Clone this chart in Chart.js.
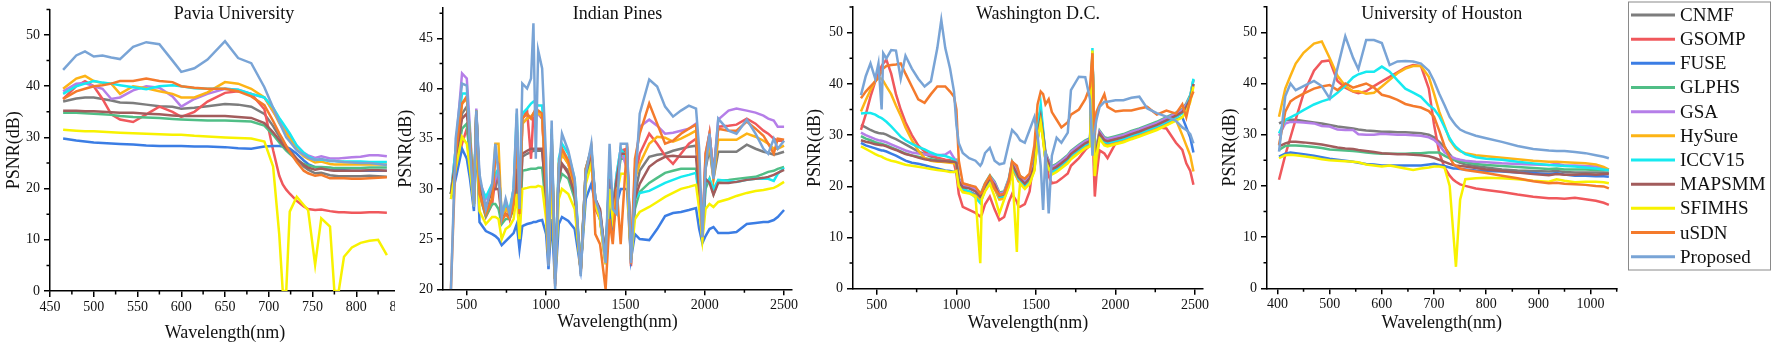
<!DOCTYPE html>
<html><head><meta charset="utf-8">
<script src="https://cdn.jsdelivr.net/npm/chart.js@4.4.1/dist/chart.umd.min.js"></script>
<style>
html,body{margin:0;padding:0;background:#fff;}
body{width:1772px;height:345px;position:relative;overflow:hidden;}
.panel{position:absolute;top:0;height:345px;background:#fff;}
.panel canvas{display:block;}
</style></head><body>
<div class="panel" style="left:0px;width:420px"><canvas id="c1" width="420" height="345"></canvas></div>
<div class="panel" style="left:395px;width:417px"><canvas id="c2" width="417" height="345"></canvas></div>
<div class="panel" style="left:800px;width:425px"><canvas id="c3" width="425" height="345"></canvas></div>
<div class="panel" style="left:1212px;width:560px"><canvas id="c4" width="560" height="345"></canvas></div>
<script>
// ---------- series names ----------
const SERIES_NAMES = ['CNMF','GSOMP','FUSE','GLPHS','GSA','HySure','ICCV15','MAPSMM','SFIMHS','uSDN','Proposed'];

// ---------- tick labels ----------
const paviaXTicks = [450,500,550,600,650,700,750,800,850];
const paviaYTicks = [0,10,20,30,40,50];
const pinesXTicks = [500,1000,1500,2000,2500];
const pinesYTicks = [20,25,30,35,40,45];
const dcXTicks = [500,1000,1500,2000,2500];
const dcYTicks = [0,10,20,30,40,50];
const houstonXTicks = [400,500,600,700,800,900,1000];
const houstonYTicks = [0,10,20,30,40,50];

// ---------- Pavia University ----------
const paviaWavelength = [465,480,490,500,510,520,530,545,560,575, 590,600,615,630,650,665,680,695,705,712, 716,720,724,732,740,745,753,760,770,775, 780,786,795,805,815,825,835];
const paviaCNMF = [37.0,37.6,37.8,37.8,37.5,37.2,36.8,36.7,36.4,36.1, 36.0,35.6,35.8,36.1,36.5,36.4,36.0,34.6,32.2,30.2, 29.2,28.3,27.5,25.8,24.3,23.7,23.0,23.1,22.6,22.5, 22.4,22.4,22.4,22.4,22.5,22.4,22.3];
const paviaGSOMP = [37.5,40.0,41.0,40.0,37.5,34.5,33.5,33.0,34.5,36.0, 35.0,34.0,35.0,37.0,38.7,39.0,38.5,35.5,27.5,22.5, 20.8,19.8,19.0,17.6,16.5,16.0,15.8,15.9,15.6,15.5, 15.4,15.4,15.3,15.3,15.4,15.4,15.3];
const paviaFUSE = [29.8,29.4,29.2,29.0,28.9,28.8,28.7,28.6,28.4,28.3, 28.3,28.3,28.2,28.2,28.1,27.9,27.8,28.2,28.3,28.3, 28.2,28.1,27.8,26.8,25.5,24.8,24.2,23.9,23.7,23.6, 23.6,23.6,23.5,23.5,23.5,23.5,23.5];
const paviaGLPHS = [34.8,34.8,34.7,34.6,34.5,34.4,34.2,34.0,33.9,33.8, 33.6,33.5,33.4,33.3,33.3,33.2,33.1,32.3,30.5,29.0, 28.2,27.4,26.8,25.6,24.8,24.5,24.2,24.2,24.1,24.0, 24.0,24.0,24.0,24.0,24.1,24.1,24.1];
const paviaGSA = [39.0,40.5,40.6,40.0,39.5,37.5,37.8,39.2,40.0,39.7, 38.0,36.0,37.5,38.5,39.5,39.3,38.5,37.8,35.0,33.2, 32.2,31.2,30.3,28.4,27.0,26.5,26.0,26.3,25.9,25.9, 25.9,26.0,26.1,26.2,26.5,26.5,26.3];
const paviaHySure = [39.5,41.5,42.0,41.0,40.6,40.5,38.5,40.0,39.6,39.0, 38.5,37.8,37.8,38.8,40.8,40.5,39.5,37.8,35.2,32.8, 31.8,30.8,29.8,27.7,26.3,25.8,25.1,25.3,24.8,24.7, 24.7,24.7,24.7,24.7,24.7,24.7,24.7];
const paviaICCV15 = [38.5,40.0,40.5,41.0,40.7,40.5,40.2,39.8,39.4,40.0, 40.2,40.0,39.6,39.5,39.5,39.3,38.5,37.8,35.8,33.8, 32.8,31.8,30.8,28.4,27.0,26.3,25.6,25.7,25.4,25.4, 25.3,25.3,25.3,25.3,25.2,25.2,25.2];
const paviaMAPSMM = [35.2,35.2,35.1,35.1,35.0,34.9,34.8,34.8,34.6,34.5, 34.3,34.2,34.2,34.2,34.2,34.0,33.8,32.8,31.0,29.5, 28.6,27.8,27.2,25.8,24.6,24.1,23.7,23.9,23.6,23.5, 23.5,23.5,23.5,23.5,23.6,23.6,23.5];
const paviaSFIMHS = [31.5,31.3,31.2,31.2,31.1,31.0,30.9,30.8,30.7,30.6, 30.5,30.5,30.3,30.2,30.0,29.9,29.8,29.2,24.3,11.0, 0,0,15.5,18.4,16.8,15.8,5.1,14.2,12.6,0, 0,6.7,8.5,9.4,9.8,10.0,7.0];
const paviaUSDN = [37.5,39.0,39.5,40.0,40.2,40.5,41.0,41.0,41.5,41.0, 40.8,40.0,39.7,39.5,39.5,39.0,38.0,36.3,33.2,30.8, 29.6,28.3,27.2,25.2,23.5,23.0,22.5,22.7,22.0,22.0, 22.0,22.0,21.9,21.9,22.0,22.1,22.2];
const paviaProposed = [43.2,46.0,46.8,45.8,46.0,45.6,45.3,47.7,48.6,48.2, 45.0,42.8,43.5,45.2,48.8,45.5,44.5,39.8,35.8,33.0, 31.5,30.0,29.2,27.5,26.6,26.0,25.6,25.8,25.4,25.4, 25.3,25.2,25.1,25.0,25.0,24.8,24.6];

// ---------- Indian Pines ----------
const pinesWavelength = [400,430,470,500,520,545,560,580,620,660, 680,700,720,745,770,795,815,832,850,880, 905,920,935,950,975,1000,1015,1035,1057,1080, 1100,1140,1180,1218,1250,1285,1310,1340,1375,1400, 1420,1445,1470,1510,1535,1560,1590,1650,1700,1750, 1800,1850,1900,1945,1965,1985,2005,2030,2055,2085, 2150,2200,2265,2320,2370,2400,2435,2460,2500];
const pinesCNMF = [29.5,33,37.5,38.2,35,28.8,37.5,30,28,30, 30,31.5,27,27.5,27.4,28,32,26.5,33.2,33.5, 33.7,33.8,33.8,33.8,33.8,29,23,34,21,31, 32.5,31.8,29.5,21.8,31.5,33.5,29,27.8,23,31, 28,31,33.5,34,23,29.5,31.8,33.2,33.4,33.5, 33.8,34,34.2,34.3,30,25.2,32,34,31,33.7, 33.7,33.7,34.4,34,33.7,33.6,33.4,33.5,33.7];
const pinesGSOMP = [29.5,32,34.5,36,34,28.5,37,29.5,27.2,28.5, 31,31,27.5,28.5,27,28.5,35,27,37,37.8, 33,37.5,37.8,37.5,37,30,23,35,21,32, 33.5,32.5,30,21.8,31.8,33.5,28,27,23,32, 27.5,31,33.8,34,22.3,31,33.5,35.5,34.5,33.3, 32.5,33.5,34.5,35,30.5,25.2,33,35.5,31.5,36.2, 36.3,36.4,37,36.5,35.8,35.5,35,34.8,34.8];
const pinesFUSE = [29,31,34,33,31,27.8,35.5,26.7,25.8,25.5, 25.3,25,24.4,24.8,25.2,25.6,26.5,24,26.3,26.5, 26.6,26.7,26.7,26.8,26.9,25.5,22,27,20.5,26.5, 27.2,26.8,26,22,29,30.5,28.5,27,22.5,28, 26,28.5,30,30,23,25.5,25,24.9,26,27.3, 27.6,27.7,27.9,28.1,26,24.6,25.3,26,26.2,25.6, 25.6,25.7,26.5,26.6,26.7,26.7,26.9,27.2,27.9];
const pinesGLPHS = [29.5,32.5,36,36.5,33,28.5,37,29.5,27.3,28.5, 28.5,28,26.5,27,27,28,31,26,31.8,31.9, 32,32,32,32.1,32.1,28,23,33,21,30.5, 31.5,31,29,21.8,31,33,28.5,27.5,23,31, 27.5,30.5,33,33,23,28,29.7,30.6,31.1,31.6, 31.8,32,32,32,29,25.2,30,31,29.5,30.8, 30.9,31,31.1,31.2,31.5,31.7,31.8,32,32.2];
const pinesGSA = [29.5,34,41.5,41,36,29,38,30.8,29,30, 31,32,27.5,28,27.5,30,36.5,27.5,36.5,37, 37.2,37.3,37.4,37.4,37.2,30,23,35.5,21,32, 34,32.8,30.5,22,32,34,28.8,27.5,23,32, 28,31.5,34,32,23,32,36.2,36.9,36.3,35.5, 35.6,35.8,36,36.5,31.5,25.2,33.5,35.5,31.5,36.9, 37.8,38,37.8,37.6,37.3,37,36.8,36.2,36.2];
const pinesHySure = [29.5,33.5,38.5,39,35.5,28.8,37.8,30,27.8,29, 34.5,34.5,27,28,27.5,29,36,27,36.5,37, 37.2,37.5,37.6,37.5,37.2,30,23,35,21,32, 33.5,32.5,30,21.8,32,33.8,28.5,27,22.5,32, 27.5,31,33.5,33.5,23,31,32.5,34.5,35.2,35.1, 34.7,35,35.4,35.8,31,25.2,32.5,34.5,31,34.9, 34.9,34.9,35.5,35.2,34.8,34.5,34,34,34.3];
const pinesICCV15 = [29.5,34,39.5,39.5,35.5,29,37.8,30.5,29.2,30.5, 31.5,32,27.5,28.5,28,30,37.5,28,37.5,38, 38.5,38.7,38.5,38.3,38.3,31,23.5,36,21,33, 34.5,33.5,31,22,32,34,29,27.5,23,32.5, 28,31.5,34,33,23,29,29.6,29.8,30.2,30.6, 30.9,31.2,31.4,31.6,29,25.2,30.5,31,30,30.9, 30.8,30.7,30.9,31,31,31,30.8,31.5,32.1];
const pinesMAPSMM = [29.5,33,37,37.5,34.5,28.8,37.5,30.5,28,30, 30,30,27,27.5,27.2,28,32,26.5,33.5,33.8, 34,34,34,34,34,29,23,34,21,31, 32.5,31.5,29.5,21.8,31.5,33.5,29,28,23,31, 28,31,33.5,33.5,23,29,30.5,32.2,32.8,33.2, 33.3,33.2,33.2,33.2,29.5,25.2,31,30.6,29.4,30.6, 30.6,30.7,30.9,31,31.1,31.2,31.4,31.6,31.9];
const pinesSFIMHS = [29,32,35.2,34.5,32,28.3,36.5,27.8,26.5,27.2, 27.2,27,25,26,26.3,27,29.5,25,30,30.1, 30.2,30.2,30.2,30.3,30.2,27,23,31,21,29, 30,29.5,28,22,30.5,32.5,28.5,27,22.5,30, 27,29.5,31.5,31.5,23,27,27.7,28.2,28.7,29.2, 29.6,30,30.2,30.4,28,24.9,28,28.5,28.2,28.7, 29,29.3,29.6,29.8,29.9,30,30.1,30.3,30.7];
const pinesUSDN = [20,33.5,38.5,39.2,35,28.5,37.8,29.5,27.5,29, 33,32.5,26.8,27.5,27,28.5,36,27.5,37,37.5, 37,37.5,38,37.8,37.5,30,22.5,35.5,20.3,32.5, 34,32.8,30.5,21.5,32,34,25.5,24.5,20,27, 24.5,30,24.5,34.5,22.5,33,35.5,38.5,36.5,34.5, 34.8,35.5,36,36.4,31.5,25.2,33.5,35.5,31.5,36, 35.8,35.8,36.7,36,35.3,34.5,33.5,35,34.9];
const pinesProposed = [20,35,40.5,40.3,34,28.2,37.8,31.5,28,30.5, 34.5,31.5,27.2,29,27.5,30,38,28,40.5,40, 41,46.5,33,43.8,42,33,22.3,36.8,20,32, 35.5,33.8,31,21.3,31.5,34.5,29,27.5,22.6,34.5, 28,27.5,34.5,34.5,22.6,30,37.5,40.9,40.2,38.2, 37.2,37.8,38.3,38,34,25.2,32,35.5,31,37, 35.8,35.5,36.9,35.5,34,33.5,35,34,34.8];

// ---------- Washington D.C. ----------
const dcWavelength = [400,430,460,490,510,530,540,560,590,620, 650,680,720,760,800,840,880,905,930,960, 985,1000,1015,1040,1080,1120,1150,1160,1180,1210, 1240,1270,1300,1330,1350,1380,1390,1400,1430,1460, 1490,1510,1530,1545,1560,1580,1600,1630,1660,1700, 1720,1770,1810,1840,1855,1862,1870,1880,1900,1930, 1950,2000,2050,2100,2150,2200,2260,2320,2380,2420, 2445,2470,2490];
const dcCNMF = [32,31.5,31,30.6,30.4,30.3,30.3,30.1,29.6,29.2, 28.7,28.2,27.5,26.8,26.3,25.8,25.5,25.3,25.1,25, 24.9,24.7,21.2,20,19.8,19.2,18.2,18.7,20.2,21.7, 20.5,18.4,18.6,21.2,24.5,22.7,22,21.7,20.7,21.7, 24.2,30.2,33.7,30.2,26.2,24.7,23.5,24,24.7,25.7, 26.5,27.7,28.6,29,46,35.2,24.2,27.2,30.5,29.2, 29,29.4,29.8,30.4,30.9,31.5,32.2,33.1,34,34.7, 35.7,37.2,40];
const dcGSOMP = [31,34,37.5,40.5,42,43.5,44,44.7,42,38, 35,32.5,30,28,26.8,26,25.6,25.4,25.2,25.1, 24.5,22.5,18.5,16,15.4,14.8,14.1,14.5,16.5,18, 15.5,13.4,14,17,18.5,17,16,16,16.5,19, 26,33,34.9,30,25,22,20.6,20.8,21.5,22.5, 24,25.5,27.1,28,42,25,18,22,27,26.4, 25.5,28.4,28.8,29.5,30.3,30.8,31.6,31.3,28.5,27.1, 24.5,23,20.3];
const dcFUSE = [28.5,28,27.7,27.4,27.2,27,27,26.8,26.4,26, 25.5,25,24.6,24.4,24.1,23.8,23.5,23.3,23.1,23, 22.8,23,20.4,19.2,19,18.4,17.4,17.9,19.4,20.9, 19.7,17.6,17.8,20.4,23.7,21.9,21.2,20.9,19.9,20.9, 23.4,29.4,32.9,29.4,25.4,23.9,22.7,23.2,23.9,24.9, 25.7,26.9,27.8,28.2,45.5,34.4,23.4,26.4,29.7,28.4, 28.2,28.6,29,29.6,30.1,30.7,31.4,32.3,33,33.5, 31.5,29.5,26.6];
const dcGLPHS = [29.8,29.3,29,28.6,28.4,28.3,28.2,28,27.6,27.2, 26.8,26.4,26,25.8,25.5,25.3,25.1,25,24.9,24.8, 24.7,25.1,21.6,20.4,20.2,19.6,18.6,19.1,20.6,22.1, 20.9,18.8,19,21.6,24.9,23.1,22.4,22.1,21.1,22.1, 24.6,30.6,34.1,30.6,26.6,25.1,23.9,24.4,25.1,26.1, 26.9,28.1,29,29.4,46.3,35.6,24.6,27.6,30.9,29.6, 29.4,29.8,30.2,30.8,31.3,31.9,32.6,33.5,34.4,35.1, 36.2,37.8,40.8];
const dcGSA = [30.5,30,29.6,29.2,29,28.9,28.8,28.6,28.2,27.8, 27.4,27,26.6,26.4,26.2,26.2,26.1,26.1,26.2,26.8, 25.5,24.9,21.4,20.2,20,19.4,18.4,18.9,20.4,21.9, 20.7,18.6,18.8,21.4,24.7,22.9,22.2,21.9,20.9,21.9, 24.4,30.4,33.9,30.4,26.4,24.9,23.7,24.2,24.9,25.9, 26.7,27.9,28.8,29.2,46.2,35.4,24.4,27.4,30.7,29.4, 29.2,29.6,30,30.6,31.1,31.7,32.4,33.3,34.2,34.9, 36,37.5,40.8];
const dcHySure = [34.6,36.8,38.8,40.6,41.2,41,40.6,39.5,38,35.8, 33.8,31.5,29,27,25.5,25,24.8,24.8,24.7,24.6, 24.5,24,20.2,19,18.8,18.2,17.2,17.7,19.2,20.7, 19.5,17.4,17.6,20.2,23.5,21.7,21,20.7,19.7,20.7, 23.2,29.2,32.7,29.2,25.2,23.7,22.5,23,23.7,24.7, 25.5,26.7,27.6,28,45.5,33,22,25,29.5,28.2, 28,28.4,28.8,29.4,29.9,30.5,31.2,32,33,30, 28,26,22.9];
const dcICCV15 = [34.2,34.3,34.3,34,33.6,33.3,33.1,32.6,31.7,30.7, 29.7,29,28.3,27.7,27.2,26.6,26.1,26,25.9,25.6, 25.2,24.5,20.7,19.5,19,17.8,16.7,17.5,19.7,21.2, 20,17.9,18.1,20.7,24,22.2,21.5,21.2,20.2,21.2, 23.7,31,36,31,25,23.5,22.5,23.5,24.2,25.2, 26,27.2,28.1,28.5,47,34.7,23.7,26.7,30,28.7, 28.5,28.9,29.3,29.9,30.4,31,31.7,32.6,33.5,34.2, 35.5,37.5,41];
const dcMAPSMM = [29,28.7,28.5,28.2,28.1,28,28,27.8,27.4,27.1, 26.7,26.3,26,25.6,25.3,25.1,25,24.9,24.9,24.8, 24.8,24.6,21,19.8,19.6,19,18,18.5,20,21.5, 20.3,18.2,18.4,21,24.3,22.5,21.8,21.5,20.5,21.5, 24,30,33.5,30,26,24.5,23.3,23.8,24.5,25.5, 26.3,27.5,28.4,28.8,45.8,35,24,27,30.3,29, 28.8,29.2,29.6,30.2,30.7,31.3,32,32.9,33.8,34.5, 35.5,37,40];
const dcSFIMHS = [27.8,27.3,26.8,26.3,26,25.8,25.6,25.3,25,24.8, 24.5,24.2,24,23.8,23.6,23.4,23.2,23.1,23,22.8, 22.8,23,20,18.8,18.6,18,5,17.5,19,20.5, 18,14.7,17.4,20,23.3,7.2,17,20.5,19.5,20.5, 23,29,32.5,29,25,23.5,22.3,22.8,23.5,24.5, 25.3,26.5,27.4,27.8,46.5,34,22,26,29.3,28, 27.8,28.2,28.6,29.2,29.7,30.3,31,31.9,32.8,33.5, 34.5,36.5,39.5];
const dcUSDN = [37.2,38.5,39.5,40.5,41.2,42.5,43,43.5,43.7,43.8, 44,42,39.5,37,36.3,38,39.5,39.5,39.5,38.5, 37.5,35,25,20.6,20.2,19.9,18.6,18.8,20.5,22, 19.5,18.3,18.5,21,24.8,24,23,22,21.5,22.5, 28,36,38.5,38,36,37,34.5,33,31.5,32.5, 34,35,37,39.5,46,35,30,34.5,36,38, 35.5,34.6,34.8,34.8,35.2,35.5,34,34.8,34.2,36, 33.5,37,38.5];
const dcProposed = [37.8,41.5,44,41,44,35,46,45,46.6,46.5, 41,45.5,43,41,39.5,40.5,47,52.5,47,43, 38.5,32,28.4,26.5,25.5,25,24,24.5,26.5,27.5, 25,24.3,24.5,28.5,31,30,29.5,29,28.5,31, 33.5,30,24,15.4,27,14.7,26,29.5,28.5,30.5, 38.8,41.4,41.3,37,26,29,31,33,35.5,36.5, 36.5,36.8,36.8,37.3,37.5,35.2,34.3,33.6,32.8,31.5, 31,30.2,28.4];

// ---------- University of Houston ----------
const houstonWavelength = [403,415,425,435,450,470,485,500,515,530, 545,555,570,585,600,615,630,645,660,675, 690,700,710,720,730,737,742,750,760,780, 800,830,860,890,920,935,950,970,990,1010, 1025,1035];
const houstonCNMF = [32.2,32.8,32.9,32.9,32.7,32.4,32.2,31.9,31.6,31.4, 31.2,31,30.8,30.7,30.6,30.6,30.5,30.5,30.4,30.3, 30,29.5,28.6,27.6,26.2,25.3,24.9,24.5,24.2,23.9, 23.6,23.2,23,22.9,22.8,22.9,22.7,22.6,22.6,22.6, 22.6,22.5];
const houstonGSOMP = [21.2,26,29.5,33,38,42.5,44.3,44.5,40.5,39.2, 38.4,38.1,38.5,39.5,40.4,41.3,42.2,43.1,43.6,43.4, 39,32,26.5,23.6,22,21.2,20.8,20.3,20,19.5, 19.2,18.8,18.3,17.9,17.6,17.6,17.5,17.7,17.4,17.1, 16.7,16.3];
const houstonFUSE = [25.7,26.3,26.5,26.4,26.2,25.9,25.6,25.3,25.1,24.9, 24.7,24.5,24.3,24.2,24,24,24,24,24,24, 24.2,24.3,24.1,23.9,23.6,23.4,23.4,23.3,23.2,23, 22.9,22.8,22.6,22.5,22.3,22.5,22.2,22,22,21.9, 21.9,21.8];
const houstonGLPHS = [27,27.8,27.9,27.9,27.8,27.6,27.4,27.1,27,26.9, 26.8,26.7,26.5,26.4,26.3,26.3,26.3,26.3,26.4,26.4, 26.5,26.5,26.5,25.9,25.4,25.1,25,24.8,24.6,24.3, 24.1,23.9,23.7,23.5,23.3,23.4,23.2,23.2,23.2,23.1, 23.1,23];
const houstonGSA = [29.8,32.2,32.5,32.5,32.4,32.2,31.7,31.6,31,30.9, 30.9,30.1,30,30,30.2,30.1,30,30,29.9,29.8, 29.5,29,28,26.6,25.8,25.5,25.3,25.1,24.9,24.7, 24.6,24.4,24.3,24.2,24.1,24.3,24,24,23.9,23.8, 23.5,23.1];
const houstonHySure = [33.5,39,41.5,43.9,46,47.8,48.2,45,41.5,39.5, 38.5,38.5,38,38.2,39.4,40.7,42,42.9,43.4,43.4, 41.3,38,34.5,31.8,29,28,27.3,26.8,26.4,26, 25.8,25.5,25.2,24.9,24.7,24.7,24.6,24.5,24.4,24.2, 23.7,23.2];
const houstonICCV15 = [30.3,32.9,33.4,33.9,34.8,35.9,36.5,37,38.2,39.6, 41.2,41.8,42.3,42.3,43.3,42.3,40.6,39,38.2,37.4, 35.8,35,33.6,31.5,29.3,28.2,27.6,26.9,26.2,25.6, 25.3,25.1,24.7,24.4,24.1,24,23.9,23.8,23.6,23.4, 23.2,23.1];
const houstonMAPSMM = [27.7,28.3,28.6,28.6,28.5,28.3,28.1,27.8,27.5,27.3, 27.2,27,26.8,26.6,26.4,26.3,26.2,26.2,26.1,26, 25.8,25.5,25.1,24.7,24.3,24.1,24,23.9,23.8,23.5, 23.2,22.9,22.6,22.3,22.1,22.3,22.2,22.2,22.3,22.2, 22.3,22.3];
const houstonSFIMHS = [25.4,26,26.1,26,25.8,25.5,25.2,25,24.9,24.8, 24.7,24.6,24.2,24,23.8,24,23.7,23.4,23.1,23.4, 23.6,23.8,23.8,23.6,20,10.7,4.2,17.3,21.3,21.5, 21.6,21.5,21.3,21,20.8,21.3,21,20.7,20.8,20.8, 20.7,20.5];
const houstonUSDN = [28,34.5,36.5,37.2,38,39,39.4,39.7,38.7,40, 39.2,39.5,40,39.2,37.8,37.4,36.8,36,35.6,35.3, 34.6,33.5,30.8,27.8,25.6,24.3,23.9,23.4,23.1,22.8, 22.5,22,21.5,20.9,20.5,20.6,20.4,20.3,20.2,20, 19.9,19.5];
const houstonProposed = [26.7,37.5,40,38.7,39.5,40.5,39.5,37.1,43,49.2, 45,42.8,48.5,48.5,47.9,43.6,44.3,44.4,44.3,43.9, 42.5,40.5,38,35.8,33.5,32.5,31.8,31,30.5,29.8, 29.3,28.6,27.8,27.2,26.9,26.8,26.8,26.6,26.4,26, 25.7,25.4];

// ---------- styling ----------
const COLORS = ['#7d7d7d','#f0585c','#3b7de4','#50be86','#b57ee8','#fdb416','#16eaf0','#a25c5c','#f8f200','#f47a2c','#79a4d6'];
const FONT = "'Liberation Serif','Times New Roman',serif";
const INK = '#111';

const minorTicks = {
  id: 'minorTicks',
  afterDraw(chart) {
    const ctx = chart.ctx, ca = chart.chartArea;
    ctx.save(); ctx.strokeStyle = '#000'; ctx.lineWidth = 1.5;
    ctx.beginPath();
    for (const id of ['x', 'y']) {
      const s = chart.scales[id];
      const vals = s.ticks.map(t => t.value);
      if (vals.length < 2) continue;
      const step = vals[1] - vals[0];
      const minors = [];
      for (let v = vals[0] - step / 2; v >= s.min - 1e-9; v -= step) minors.push(v);
      for (let v = vals[0] + step / 2; v <= s.max + 1e-9; v += step) minors.push(v);
      for (const v of minors) {
        const p = s.getPixelForValue(v);
        if (id === 'x') { ctx.moveTo(p, ca.bottom); ctx.lineTo(p, ca.bottom + 3.5); }
        else { ctx.moveTo(ca.left, p); ctx.lineTo(ca.left - 3.5, p); }
      }
    }
    ctx.stroke(); ctx.restore();
  }
};

const panelTitle = {
  id: 'panelTitle',
  afterDraw(chart, args, opts) {
    const ctx = chart.ctx, ca = chart.chartArea;
    ctx.save();
    ctx.font = '18px ' + FONT; ctx.fillStyle = INK;
    ctx.textAlign = 'center'; ctx.textBaseline = 'alphabetic';
    ctx.fillText(opts.text, (ca.left + ca.right) / 2 + opts.dx, opts.y);
    ctx.restore();
  }
};

const boxLegend = {
  id: 'boxLegend',
  afterDraw(chart, args, opts) {
    if (!opts.show) return;
    const ctx = chart.ctx;
    ctx.save();
    ctx.strokeStyle = '#8a8a8a'; ctx.lineWidth = 1;
    ctx.strokeRect(opts.x + 0.5, opts.y + 0.5, opts.w, opts.h);
    ctx.font = '19px ' + FONT; ctx.textBaseline = 'middle'; ctx.textAlign = 'left';
    chart.data.datasets.forEach((ds, i) => {
      const cy = opts.firstY + i * opts.rowH;
      ctx.strokeStyle = ds.borderColor; ctx.lineWidth = 3;
      ctx.beginPath(); ctx.moveTo(opts.lineX0, cy); ctx.lineTo(opts.lineX1, cy); ctx.stroke();
      ctx.fillStyle = INK;
      ctx.fillText(ds.label, opts.textX, cy + 1);
    });
    ctx.restore();
  }
};

function makeChart(id, cfg) {
  const datasets = SERIES_NAMES.map((name, i) => ({
    label: name,
    data: cfg.wl.map((w, k) => ({x: w, y: cfg.series[i][k]})),
    borderColor: COLORS[i], backgroundColor: COLORS[i],
    borderWidth: 2.5, pointRadius: 0, tension: 0,
    order: SERIES_NAMES.length - 1 - i
  }));
  const axisCommon = {
    grid: {display: true, drawOnChartArea: false, drawTicks: true, tickLength: 6, color: '#000', lineWidth: 1.5, tickWidth: 1.5, tickColor: '#000'},
    border: {display: true, color: '#000', width: 1.5}
  };
  return new Chart(document.getElementById(id), {
    type: 'line',
    data: {datasets},
    options: {
      responsive: false, animation: false, events: [],
      layout: {padding: {left: 0, right: cfg.padR, top: cfg.padT, bottom: 0}},
      plugins: {
        legend: {display: false}, tooltip: {enabled: false},
        panelTitle: {text: cfg.title, dx: cfg.titleDx, y: 18.5},
        boxLegend: cfg.legend || {show: false}
      },
      scales: {
        x: Object.assign({
          type: 'linear', position: 'bottom', min: cfg.xMin, max: cfg.xMax,
          ticks: {autoSkip: false, maxRotation: 0, padding: 2,
                  color: INK, font: {family: FONT, size: 14}, callback: v => String(v)},
          afterBuildTicks(s) { s.ticks = cfg.xTicks.map(v => ({value: v})); },
          title: {display: true, text: 'Wavelength(nm)', color: INK, font: {family: FONT, size: 18},
                  padding: {top: 0, bottom: cfg.xTitlePad}},
          afterFit(s) { s.height = cfg.xH; s.paddingLeft = 0; s.paddingRight = 0; s.paddingTop = 0; s.paddingBottom = 0; }
        }, axisCommon),
        y: Object.assign({
          type: 'linear', position: 'left', min: cfg.yMin, max: cfg.yMax,
          ticks: {autoSkip: false, padding: 4,
                  color: INK, font: {family: FONT, size: 14}, callback: v => String(v)},
          afterBuildTicks(s) { s.ticks = cfg.yTicks.map(v => ({value: v})); },
          title: {display: true, text: 'PSNR(dB)', color: INK, font: {family: FONT, size: 18},
                  padding: {top: cfg.yTitlePad, bottom: 0}},
          afterFit(s) { s.width = cfg.yW; s.paddingLeft = 0; s.paddingRight = 0; s.paddingTop = 0; s.paddingBottom = 0; }
        }, axisCommon)
      }
    },
    plugins: [minorTicks, panelTitle, boxLegend]
  });
}

makeChart('c1', {
  title: 'Pavia University', titleDx: 9, wl: paviaWavelength,
  series: [paviaCNMF, paviaGSOMP, paviaFUSE, paviaGLPHS, paviaGSA, paviaHySure, paviaICCV15, paviaMAPSMM, paviaSFIMHS, paviaUSDN, paviaProposed],
  xMin: 450, xMax: 850, xTicks: paviaXTicks, yMin: 0, yMax: 55, yTicks: paviaYTicks,
  padR: 20, padT: 9.4, yW: 50, xH: 54, yTitlePad: 3.2, xTitlePad: 1.2
});
makeChart('c2', {
  title: 'Indian Pines', titleDx: 0, wl: pinesWavelength,
  series: [pinesCNMF, pinesGSOMP, pinesFUSE, pinesGLPHS, pinesGSA, pinesHySure, pinesICCV15, pinesMAPSMM, pinesSFIMHS, pinesUSDN, pinesProposed],
  xMin: 350, xMax: 2550, xTicks: pinesXTicks, yMin: 20, yMax: 48, yTicks: pinesYTicks,
  padR: 20, padT: 8.2, yW: 48, xH: 55.7, yTitlePad: 0, xTitlePad: 12.2
});
makeChart('c3', {
  title: 'Washington D.C.', titleDx: 10, wl: dcWavelength,
  series: [dcCNMF, dcGSOMP, dcFUSE, dcGLPHS, dcGSA, dcHySure, dcICCV15, dcMAPSMM, dcSFIMHS, dcUSDN, dcProposed],
  xMin: 350, xMax: 2550, xTicks: dcXTicks, yMin: 0, yMax: 55, yTicks: dcYTicks,
  padR: 22, padT: 7.1, yW: 53, xH: 56.3, yTitlePad: 4.2, xTitlePad: 11.2
});
makeChart('c4', {
  title: 'University of Houston', titleDx: 0, wl: houstonWavelength,
  series: [houstonCNMF, houstonGSOMP, houstonFUSE, houstonGLPHS, houstonGSA, houstonHySure, houstonICCV15, houstonMAPSMM, houstonSFIMHS, houstonUSDN, houstonProposed],
  xMin: 380, xMax: 1050, xTicks: houstonXTicks, yMin: 0, yMax: 55, yTicks: houstonYTicks,
  padR: 155.3, padT: 6.7, yW: 55, xH: 56.7, yTitlePad: 7.2, xTitlePad: 11.2,
  legend: {show: true, x: 416, y: 1.5, w: 142, h: 268, lineX0: 419, lineX1: 463, textX: 468, firstY: 15, rowH: 24.17}
});
</script>
</body></html>
